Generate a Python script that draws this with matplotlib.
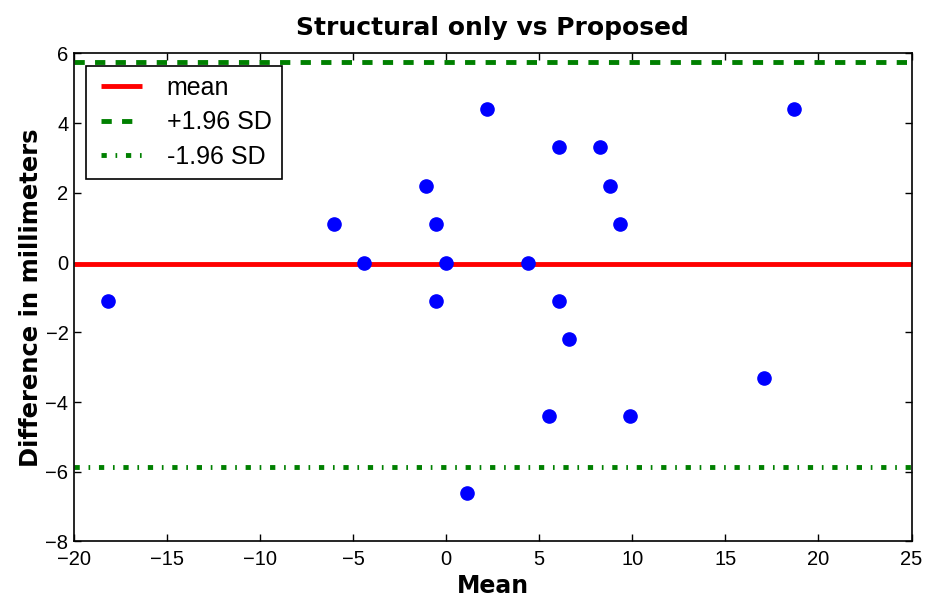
import numpy as np
import matplotlib
matplotlib.use("Agg")
import matplotlib.pyplot as plt
from matplotlib.legend_handler import HandlerLine2D

# Bland-Altman data: mean of the two methods vs their difference (mm)
means = [-18.15, -6.05, -4.4, -1.1, -0.55, -0.55, 0.0, 2.2, 4.4, 6.05,
         6.05, 6.6, 5.5, 8.25, 8.8, 9.35, 9.9, 17.05, 18.7, 1.1]
diffs = [-1.1, 1.1, 0.0, 2.2, 1.1, -1.1, 0.0, 4.4, 0.0, 3.3,
         -1.1, -2.2, -4.4, 3.3, 2.2, 1.1, -4.4, -3.3, 4.4, -6.6]

x_limits = [-20, 25]
y_limits = [-8, 6]
x_ticks = [-20, -15, -10, -5, 0, 5, 10, 15, 20, 25]
y_ticks = [-8, -6, -4, -2, 0, 2, 4, 6]

plt.rcParams['font.family'] = ['Liberation Sans', 'DejaVu Sans']
plt.rcParams['lines.scale_dashes'] = False
plt.rcParams['axes.unicode_minus'] = True

md = np.mean(diffs)
sd = np.std(diffs)

fig = plt.figure(figsize=(9.27, 5.98), dpi=100)
ax = fig.add_axes([0.0798, 0.0945, 0.9035, 0.8164])

ax.plot(means, diffs, 'o', color='b', markeredgecolor='b', markersize=9.5, zorder=3)
ax.axhline(md, color='r', linewidth=3.5, solid_capstyle='butt', label='mean')
ax.axhline(md + 1.96 * sd, color='g', linewidth=3.5, dashes=(7.4, 7.4), label='+1.96 SD')
ax.axhline(md - 1.96 * sd, color='g', linewidth=3.5, dashes=(3.8, 6.3, 1.2, 6.3), label='-1.96 SD')

ax.set_xlim(x_limits)
ax.set_ylim(y_limits)
ax.set_xticks(x_ticks)
ax.set_yticks(y_ticks)
ax.tick_params(direction='in', top=True, right=True, length=5, width=1, labelsize=14.5)
ax.tick_params(axis='x', pad=6)
ax.tick_params(axis='y', pad=4)
for s in ax.spines.values():
    s.set_linewidth(1.2)

bold = dict(family='DejaVu Sans', weight='bold')
ax.set_title('Structural only vs Proposed', fontsize=18, pad=13, **bold)
ax.set_xlabel('Mean', fontsize=17, labelpad=4, **bold)
ax.set_ylabel('Difference in millimeters', fontsize=17.5, labelpad=2, **bold)

leg = ax.legend(loc='upper left', fontsize=18, handlelength=1.81, handletextpad=1.0,
                labelspacing=0.42, fancybox=False, framealpha=1, edgecolor='black',
                borderaxespad=0.5,
                handler_map={matplotlib.lines.Line2D: HandlerLine2D(xpad=0.17)})
leg.get_frame().set_linewidth(1.2)

fig.savefig('out.png', dpi=100)
